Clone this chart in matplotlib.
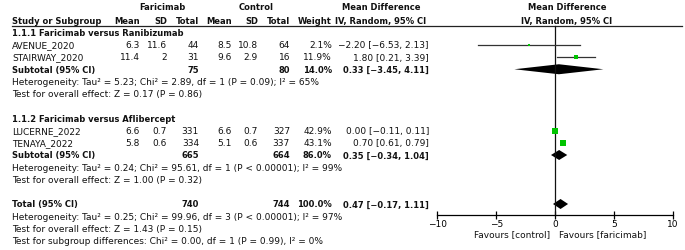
import numpy as np
import matplotlib
matplotlib.use('Agg')
import matplotlib.pyplot as plt

# study data
studies = ['AVENUE_2020', 'STAIRWAY_2020', 'LUCERNE_2022', 'TENAYA_2022']
f_mean = [6.3, 11.4, 6.6, 5.8]
f_sd = [11.6, 2, 0.7, 0.6]
f_n = [44, 31, 331, 334]
c_mean = [8.5, 9.6, 6.6, 5.1]
c_sd = [10.8, 2.9, 0.7, 0.6]
c_n = [64, 16, 327, 337]
weights = [2.1, 11.9, 42.9, 43.1]
md = [-2.20, 1.80, 0.00, 0.70]
md_lo = [-6.53, 0.21, -0.11, 0.61]
md_hi = [2.13, 3.39, 0.11, 0.79]

groups = ['1.1.1 Faricimab versus Ranibizumab', '1.1.2 Faricimab versus Aflibercept']
sub_fn = [75, 665]
sub_cn = [80, 664]
sub_w = [14.0, 86.0]
sub_md = [0.33, 0.35]
sub_lo = [-3.45, -0.34]
sub_hi = [4.11, 1.04]
sub_het = ['Heterogeneity: Tau\u00b2 = 5.23; Chi\u00b2 = 2.89, df = 1 (P = 0.09); I\u00b2 = 65%',
           'Heterogeneity: Tau\u00b2 = 0.24; Chi\u00b2 = 95.61, df = 1 (P < 0.00001); I\u00b2 = 99%']
sub_z = ['Test for overall effect: Z = 0.17 (P = 0.86)',
         'Test for overall effect: Z = 1.00 (P = 0.32)']

tot_fn, tot_cn, tot_w = 740, 744, 100.0
tot_md, tot_lo, tot_hi = 0.47, -0.17, 1.11
tot_notes = ['Heterogeneity: Tau\u00b2 = 0.25; Chi\u00b2 = 99.96, df = 3 (P < 0.00001); I\u00b2 = 97%',
             'Test for overall effect: Z = 1.43 (P = 0.15)',
             'Test for subgroup differences: Chi\u00b2 = 0.00, df = 1 (P = 0.99), I\u00b2 = 0%']

ticks = [-10, -5, 0, 5, 10]

W, H = 685, 251
fig = plt.figure(figsize=(W / 100, H / 100), dpi=100)
ax = fig.add_axes([0, 0, 1, 1])
ax.set_xlim(0, W)
ax.set_ylim(H, 0)
ax.axis('off')

FS = 6.45      # regular text
FSB = 6.0      # bold text (DejaVu bold runs wide)
GREEN = '#00c400'
y0, dy = 33.5, 12.25
def ry(r):
    return y0 + dy * r

def m(v):
    return f'{v:.2f}'.replace('-', '\u2212')

def ci(e, l, h):
    return f'{m(e)} [{m(l)}, {m(h)}]'

# column right edges
cols = [140, 167, 199, 232, 258, 290, 332, 429]
x_left = 12

def txt(x, r, s, ha='right', bold=False, dyy=0):
    ax.text(x, ry(r) + dyy, s, ha=ha, va='center', fontsize=FSB if bold else FS,
            fontweight='bold' if bold else 'normal', color='#111111')

# headers
txt(162, -2, 'Faricimab', ha='center', bold=True, dyy=-1)
txt(256, -2, 'Control', ha='center', bold=True, dyy=-1)
txt(381, -2, 'Mean Difference', ha='center', bold=True, dyy=-1)
txt(567, -2, 'Mean Difference', ha='center', bold=True, dyy=-1)
txt(x_left, -1, 'Study or Subgroup', ha='left', bold=True)
for x, s in zip(cols, ['Mean', 'SD', 'Total', 'Mean', 'SD', 'Total', 'Weight']):
    txt(x, -1, s, bold=True)
txt(381, -1, 'IV, Random, 95% CI', ha='center', bold=True)
txt(567, -1, 'IV, Random, 95% CI', ha='center', bold=True)
ax.plot([x_left, 682], [27, 27], color='#222222', lw=0.9)

# forest axes
fx0, fx1 = 437.3, 672.7
fa = fig.add_axes([fx0 / W, 0, (fx1 - fx0) / W, 1])
fa.set_xlim(-10, 10)
fa.set_ylim(H, 0)
fa.patch.set_visible(False)
for s in ['top', 'right', 'left']:
    fa.spines[s].set_visible(False)
fa.spines['bottom'].set_position(('data', 216.3))
fa.spines['bottom'].set_linewidth(0.9)
fa.set_yticks([])
fa.set_xticks(ticks)
fa.set_xticklabels([str(t).replace('-', '\u2212') for t in ticks], fontsize=FS)
fa.tick_params(axis='x', direction='inout', length=6, width=0.9, pad=0)
fa.plot([0, 0], [27, 216.3], color='#111111', lw=0.9)

def diamond(r, e, l, h):
    y = ry(r)
    fa.fill([l, e, h, e], [y, y - 5, y, y + 5], color='black', lw=0)

rows_by_group = [[0, 1], [2, 3]]
r = 0
for g in range(2):
    txt(x_left, r, groups[g], ha='left', bold=True)
    r += 1
    for i in rows_by_group[g]:
        txt(x_left, r, studies[i], ha='left')
        vals = [f'{f_mean[i]:g}', f'{f_sd[i]:g}', str(f_n[i]),
                f'{c_mean[i]:g}', f'{c_sd[i]:g}', str(c_n[i]), f'{weights[i]:.1f}%']
        for x, s in zip(cols, vals):
            txt(x, r, s)
        txt(cols[7], r, ci(md[i], md_lo[i], md_hi[i]))
        fa.plot([md_lo[i], md_hi[i]], [ry(r), ry(r)], color='#333333', lw=0.9)
        fa.plot(md[i], ry(r), 's', color=GREEN, ms=max(1.6, 0.72 * np.sqrt(weights[i])), mew=0)
        r += 1
    txt(x_left, r, 'Subtotal (95% CI)', ha='left', bold=True)
    txt(cols[2], r, str(sub_fn[g]), bold=True)
    txt(cols[5], r, str(sub_cn[g]), bold=True)
    txt(cols[6], r, f'{sub_w[g]:.1f}%', bold=True)
    txt(cols[7], r, ci(sub_md[g], sub_lo[g], sub_hi[g]), bold=True)
    diamond(r, sub_md[g], sub_lo[g], sub_hi[g])
    r += 1
    txt(x_left, r, sub_het[g], ha='left')
    r += 1
    txt(x_left, r, sub_z[g], ha='left')
    r += 2

txt(x_left, r, 'Total (95% CI)', ha='left', bold=True)
txt(cols[2], r, str(tot_fn), bold=True)
txt(cols[5], r, str(tot_cn), bold=True)
txt(cols[6], r, f'{tot_w:.1f}%', bold=True)
txt(cols[7], r, ci(tot_md, tot_lo, tot_hi), bold=True)
diamond(r, tot_md, tot_lo, tot_hi)
for note in tot_notes:
    r += 1
    txt(x_left, r, note, ha='left')

ax.text(550, 235, 'Favours [control]', ha='right', va='center', fontsize=FS, color='#111111')
ax.text(559, 235, 'Favours [faricimab]', ha='left', va='center', fontsize=FS, color='#111111')

fig.savefig('out.png', dpi=100)
